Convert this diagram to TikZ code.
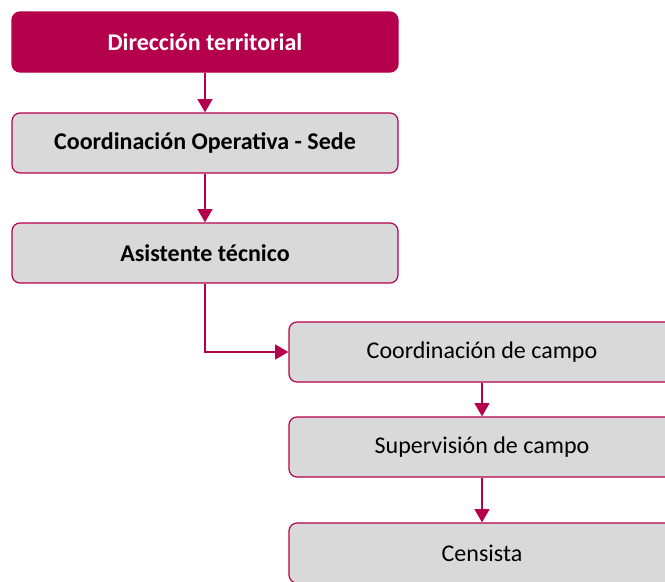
\documentclass[tikz,border=0pt]{standalone}
\usepackage{fontspec}
\setmainfont{Carlito}
\usepackage{tikz}
\usetikzlibrary{arrows.meta}
\definecolor{vino}{RGB}{181,0,75}
\definecolor{gris}{RGB}{217,217,217}

\begin{document}
\begin{tikzpicture}[x=0.75pt, y=-0.75pt,
		caja/.style={draw=vino, line width=0.9pt, fill=gris, rounded corners=6pt, minimum width=289.5pt, minimum height=45pt, inner sep=0pt, font=\fontsize{18}{21}\selectfont},
		flecha/.style={draw=vino, line width=1.9pt, -{Triangle[length=10pt, width=11pt]}}]
			\useasboundingbox (0, 0) rectangle (665, 582);
			\clip (0, 0) rectangle (665, 582);
			\node[caja, fill=vino, draw=vino, text=white, font=\fontsize{18}{21}\selectfont\bfseries] (dir) at (205, 42) {Dirección territorial};
			\node[caja, font=\fontsize{18}{21}\selectfont\bfseries] (coord) at (205, 143) {Coordinación Operativa - Sede};
			\node[caja, font=\fontsize{18}{21}\selectfont\bfseries] (asis) at (205, 253) {Asistente técnico};
			\node[caja] (campo) at (482, 352) {Coordinación de campo};
			\node[caja] (super) at (482, 447) {Supervisión de campo};
			\node[caja] (cens) at (482, 553) {Censista};
			\draw[flecha] (dir) -- (coord);
			\draw[flecha] (coord) -- (asis);
			\draw[flecha] (asis.south) |- (campo.west);
			\draw[flecha] (campo) -- (super);
			\draw[flecha] (super) -- (cens);
		\end{tikzpicture}
\end{document}
